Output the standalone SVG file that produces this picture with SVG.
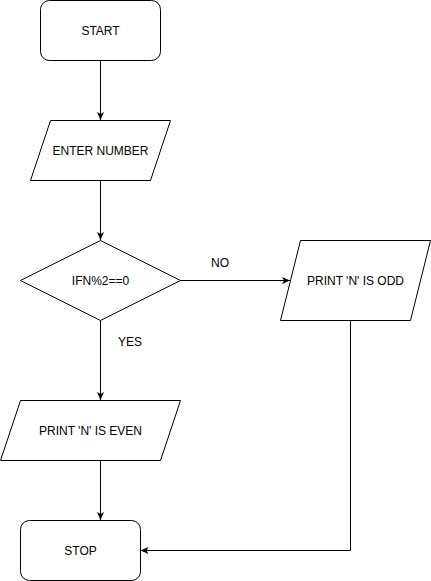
<svg xmlns="http://www.w3.org/2000/svg" width="431" height="581" viewBox="0 0 431 581">
<style>
.s{fill:#fff;stroke:#000;stroke-width:1}
.t{font-family:"Liberation Sans",Arial,sans-serif;font-size:12px;fill:#000;text-anchor:middle;dominant-baseline:central}
.c{fill:none;stroke:#000;stroke-width:1}
</style>
<defs>
<marker id="a" viewBox="0 0 8 8" refX="8" refY="4" markerWidth="8" markerHeight="8" markerUnits="userSpaceOnUse" orient="auto">
<path d="M0,0.5 L8,4 L0,7.5 L2,4 Z" fill="#000"/>
</marker>
</defs>
<rect width="431" height="581" fill="#fff"/>
<g id="connectors">
<path class="c" d="M100.5,60.5 V120" marker-end="url(#a)"/>
<path class="c" d="M100.5,180.5 V240" marker-end="url(#a)"/>
<path class="c" d="M180.5,280.5 H290" marker-end="url(#a)"/>
<path class="c" d="M100.5,320.5 V400" marker-end="url(#a)"/>
<path class="c" d="M100.5,460.5 V520" marker-end="url(#a)"/>
<path class="c" d="M350.5,320.5 V550.5 H140.5" marker-end="url(#a)"/>
<text class="t" x="220" y="263">NO</text>
<text class="t" x="130" y="342">YES</text>
</g>
<g id="start">
<rect class="s" x="40.5" y="0.5" width="120" height="60" rx="9" ry="9"/>
<text class="t" x="100.5" y="30.5">START</text>
</g>
<g id="enter">
<path class="s" d="M50.5,120.5 H170.5 L150.5,180.5 H30.5 Z"/>
<text class="t" x="100.5" y="150.5">ENTER NUMBER</text>
</g>
<g id="decision">
<path class="s" d="M100.5,240.5 L180.5,280.5 L100.5,320.5 L20.5,280.5 Z"/>
<text class="t" x="100.5" y="280.5">IFN%2==0</text>
</g>
<g id="odd">
<path class="s" d="M300.5,240.5 H430.5 L410.5,320.5 H280.5 Z"/>
<text class="t" x="355.5" y="280.5">PRINT 'N' IS ODD</text>
</g>
<g id="even">
<path class="s" d="M20.5,400.5 H180.5 L160.5,460.5 H0.5 Z"/>
<text class="t" x="90.5" y="430.5">PRINT 'N' IS EVEN</text>
</g>
<g id="stop">
<rect class="s" x="20.5" y="520.5" width="120" height="60" rx="9" ry="9"/>
<text class="t" x="80.5" y="550.5">STOP</text>
</g>
</svg>
